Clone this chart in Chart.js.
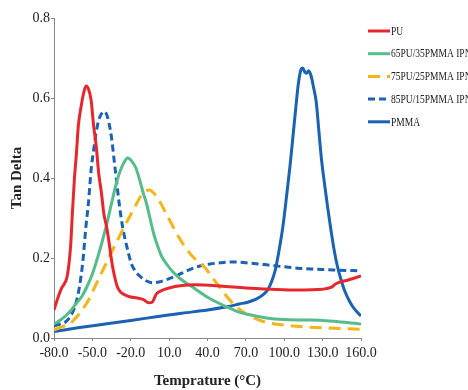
<!DOCTYPE html>
<html>
<head>
<meta charset="utf-8">
<script src="https://cdn.jsdelivr.net/npm/chart.js@4"></script>
<style>
html,body{margin:0;padding:0;background:#fff;}
#wrap{position:relative;width:468px;height:390px;}
</style>
</head>
<body>
<div id="wrap"><canvas id="c"></canvas></div>
<script>
// ---- Data ----
const seriesNames = ['PU', '65PU/35PMMA IPN', '75PU/25PMMA IPN', '85PU/15PMMA IPN', 'PMMA'];
const xTicks = [-80, -50, -20, 10, 40, 70, 100, 130, 160];
const yTicks = [0, 0.2, 0.4, 0.6, 0.8];

const puT = [-80,-77,-74,-72,-70,-68.5,-67,-65.5,-64,-62.5,-61,-59,-57,-55,-53,-51,-49,-47,-45,-43,-41,-39,-37,-35.5,-34,-32,-30.5,-28,-24,-21,-15,-10,-6,-3,-1.5,0,3,10,20,30,50,70,90,110,130,137,140,150,160];
const puV = [0.07,0.10,0.125,0.135,0.15,0.18,0.23,0.32,0.40,0.46,0.53,0.575,0.61,0.63,0.622,0.595,0.53,0.48,0.41,0.365,0.31,0.28,0.24,0.205,0.175,0.145,0.128,0.115,0.107,0.103,0.10,0.096,0.088,0.09,0.10,0.11,0.117,0.125,0.131,0.133,0.13,0.125,0.122,0.12,0.122,0.127,0.135,0.145,0.155];

const ipn65T = [-80,-75,-71,-67,-63,-58,-54,-50,-46,-42,-38,-35,-31,-28,-25,-22.5,-20,-16,-13,-10,-8,-5,-2,1,4,8,13,18,23,28,33,40,47,55,62,73,86,100,115,130,145,160];
const ipn65V = [0.035,0.045,0.055,0.068,0.085,0.105,0.13,0.16,0.20,0.245,0.295,0.337,0.39,0.42,0.44,0.45,0.445,0.425,0.395,0.36,0.34,0.30,0.26,0.23,0.205,0.185,0.165,0.15,0.138,0.128,0.117,0.102,0.09,0.078,0.068,0.058,0.05,0.046,0.045,0.044,0.04,0.035];

const ipn75T = [-80,-74,-68,-63,-58,-53,-47,-41,-35,-29,-24,-18,-13,-9,-5.5,-2,2,7,12,17,22,28,33,38,44,50,56,62,68,75,85,98,115,135,160];
const ipn75V = [0.02,0.028,0.035,0.05,0.07,0.095,0.135,0.175,0.215,0.253,0.285,0.32,0.35,0.365,0.37,0.362,0.345,0.315,0.285,0.255,0.23,0.205,0.19,0.176,0.15,0.125,0.10,0.08,0.065,0.052,0.04,0.033,0.028,0.025,0.022];

const ipn85T = [-80,-75,-71,-67,-63,-60,-57.5,-55,-53,-51,-49,-47,-45,-43,-41,-39,-37,-35,-33,-31,-29,-27,-25,-22,-20,-16,-13,-8,-3,2,8,14,20,27,34,42,50,60,70,86,100,112,125,138,160];
const ipn85V = [0.03,0.035,0.04,0.055,0.085,0.13,0.19,0.28,0.34,0.42,0.47,0.515,0.545,0.56,0.566,0.56,0.537,0.50,0.445,0.39,0.335,0.29,0.255,0.215,0.19,0.165,0.155,0.143,0.138,0.14,0.146,0.153,0.162,0.172,0.18,0.185,0.188,0.19,0.188,0.183,0.178,0.174,0.172,0.17,0.168];

const pmmaT = [-80,-60,-40,-20,0,20,40,55,65,72,78,83,87,90,93,96,99,102,104.5,107,109,111,113,114.5,116,117.5,119,121,123,125,127,129,131.5,134,136.5,139,141.5,144,147,151,155,160];
const pmmaV = [0.016,0.026,0.035,0.044,0.053,0.062,0.07,0.078,0.085,0.09,0.097,0.107,0.12,0.14,0.17,0.22,0.28,0.36,0.43,0.51,0.575,0.635,0.67,0.675,0.665,0.662,0.668,0.655,0.625,0.59,0.52,0.45,0.385,0.325,0.27,0.22,0.18,0.15,0.12,0.092,0.072,0.055];

// ---- styling ----
const colors = ['#e6282e', '#57bc8b', '#f4b41a', '#1c62b2', '#1c62b2'];
const dashes = [[], [], [12, 7], [7, 4], []];

const pts = (T, V) => T.map((t, i) => ({x: t, y: V[i]}));
const seriesData = [pts(puT, puV), pts(ipn65T, ipn65V), pts(ipn75T, ipn75V), pts(ipn85T, ipn85V), pts(pmmaT, pmmaV)];

const datasets = seriesNames.map((n, i) => ({
  label: n,
  data: seriesData[i],
  borderColor: colors[i],
  backgroundColor: colors[i],
  borderWidth: 3,
  borderDash: dashes[i],
  pointRadius: 0,
  fill: false,
  cubicInterpolationMode: 'monotone'
}));

const serif = '"Liberation Serif", "Times New Roman", serif';

const sideLegend = {
  id: 'sideLegend',
  afterDraw(chart) {
    const ctx = chart.ctx;
    ctx.save();
    chart.data.datasets.forEach((ds, i) => {
      const y = 31 + i * 22.7;
      ctx.beginPath();
      ctx.setLineDash(ds.borderDash || []);
      ctx.strokeStyle = ds.borderColor;
      ctx.lineWidth = 3;
      ctx.moveTo(368, y);
      ctx.lineTo(390, y);
      ctx.stroke();
      ctx.setLineDash([]);
      ctx.save();
      ctx.translate(391, y);
      ctx.scale(0.76, 1);
      ctx.font = '12.5px ' + serif;
      ctx.fillStyle = '#222';
      ctx.textBaseline = 'middle';
      ctx.textAlign = 'left';
      ctx.fillText(ds.label, 0, 0.5);
      ctx.restore();
    });
    ctx.restore();
  }
};

new Chart(document.getElementById('c'), {
  type: 'line',
  data: {datasets},
  plugins: [sideLegend],
  options: {
    responsive: true,
    maintainAspectRatio: false,
    animation: false,
    layout: {padding: {left: 0, right: 107, top: 18, bottom: 0}},
    plugins: {legend: {display: false}, tooltip: {enabled: false}},
    scales: {
      x: {
        type: 'linear', min: -80, max: 160,
        afterBuildTicks: s => { s.ticks = xTicks.map(v => ({value: v})); },
        afterFit: s => { s.height = 52; },
        ticks: {callback: v => Number(v).toFixed(1), font: {family: serif, size: 14}, color: '#222', padding: 4, maxRotation: 0, autoSkip: false},
        grid: {display: true, drawOnChartArea: false, drawTicks: true, tickLength: 3, color: '#888'},
        border: {display: true, color: '#888', width: 1},
        title: {display: true, text: 'Temprature (°C)', font: {family: serif, size: 15, weight: 'bold'}, color: '#222', padding: {top: 0, bottom: 0}}
      },
      y: {
        min: 0, max: 0.8,
        afterBuildTicks: s => { s.ticks = yTicks.map(v => ({value: v})); },
        afterFit: s => { s.width = 54; },
        ticks: {callback: v => Number(v).toFixed(1), font: {family: serif, size: 14}, color: '#222', padding: 1},
        grid: {display: true, drawOnChartArea: false, drawTicks: true, tickLength: 3, color: '#888'},
        border: {display: true, color: '#888', width: 1},
        title: {display: true, text: 'Tan Delta', font: {family: serif, size: 15, weight: 'bold'}, color: '#222', padding: {top: 8, bottom: 0}}
      }
    }
  }
});
</script>
</body>
</html>
